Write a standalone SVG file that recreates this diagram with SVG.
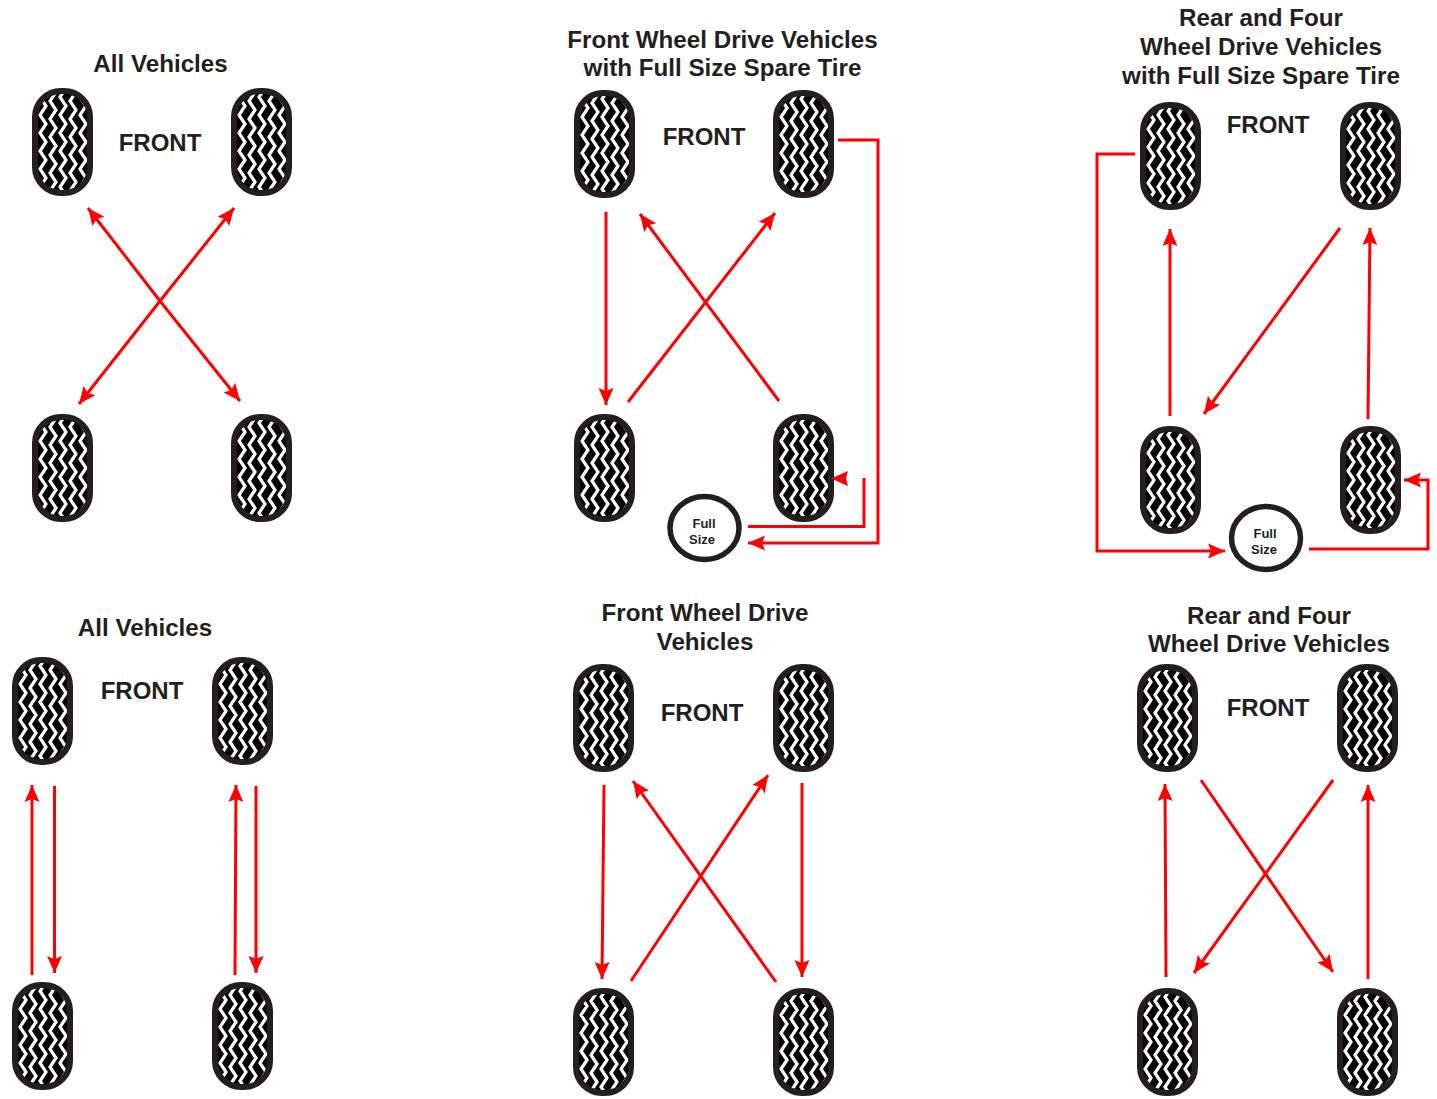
<svg xmlns="http://www.w3.org/2000/svg" width="1437" height="1099" viewBox="0 0 1437 1099">
<style>
text{font-family:"Liberation Sans",Arial,sans-serif;font-weight:bold;fill:#231f20;text-anchor:middle}
.t{font-size:24.2px}
.f{font-size:24px}
.s{font-size:13px}
.c{fill:none;stroke:#f00;stroke-width:3}
.z{fill:none;stroke:#fff;stroke-width:3.2;stroke-linejoin:miter}
.spare{fill:#fff;stroke:#231f20;stroke-width:5.500}
</style>
<defs>
<marker id="ah" markerUnits="userSpaceOnUse" markerWidth="20" markerHeight="18" refX="18" refY="8" orient="auto">
<path d="M1 0.500L18 8L1 15.500L4 8Z" fill="#f00"/>
</marker>
<clipPath id="cp"><rect x="3" y="3" width="55" height="102" rx="24" ry="24"/></clipPath>
<path id="zz" d="M0 -9l6 9l-6 9l6 9l-6 9l6 9l-6 9l6 9l-6 9l6 9l-6 9l6 9l-6 9l6 9l-6 9"/>
<g id="tire">
<rect x="3" y="3" width="55" height="102" rx="25" ry="25" fill="#000"/>
<g clip-path="url(#cp)">
<use href="#zz" x="-2" y="4" class="z"/>
<use href="#zz" x="8" y="0" class="z"/>
<use href="#zz" x="18" y="4" class="z"/>
<use href="#zz" x="28" y="0" class="z"/>
<use href="#zz" x="38" y="4" class="z"/>
<use href="#zz" x="48" y="0" class="z"/>
<use href="#zz" x="58" y="4" class="z"/>
</g>
<rect x="3" y="3" width="55" height="102" rx="26" ry="26" fill="none" stroke="#231f20" stroke-width="6"/>
</g>
</defs>
<rect width="1437" height="1099" fill="#fff"/>

<g id="panel1">
<text class="t" x="160.500" y="72">All Vehicles</text>
<text class="f" x="160" y="151">FRONT</text>
<use id="p1-fl" href="#tire" x="32" y="88"/><use id="p1-fr" href="#tire" x="231" y="88"/>
<use id="p1-rl" href="#tire" x="32" y="414"/><use id="p1-rr" href="#tire" x="231" y="414"/>
</g>
<g id="panel2">
<text class="t" x="722.500" y="48">Front Wheel Drive Vehicles</text>
<text class="t" x="722.500" y="76">with Full Size Spare Tire</text>
<text class="f" x="704" y="145">FRONT</text>
<use id="p2-fl" href="#tire" x="574" y="90"/><use id="p2-fr" href="#tire" x="773" y="90"/>
<use id="p2-rl" href="#tire" x="574" y="414"/><use id="p2-rr" href="#tire" x="773" y="414"/>
</g>
<g id="p2-spare">
<ellipse class="spare" cx="704.500" cy="528" rx="34.500" ry="31.500"/>
<text class="s" x="704" y="528">Full</text><text class="s" x="702" y="544">Size</text>
</g>
<g id="panel3">
<text class="t" x="1261" y="26">Rear and Four</text>
<text class="t" x="1261" y="55">Wheel Drive Vehicles</text>
<text class="t" x="1261" y="84">with Full Size Spare Tire</text>
<text class="f" x="1268" y="133">FRONT</text>
<use id="p3-fl" href="#tire" x="1140" y="102"/><use id="p3-fr" href="#tire" x="1340" y="102"/>
<use id="p3-rl" href="#tire" x="1140" y="426"/><use id="p3-rr" href="#tire" x="1340" y="426"/>
</g>
<g id="p3-spare">
<ellipse class="spare" cx="1266" cy="538" rx="34.500" ry="31.500"/>
<text class="s" x="1265" y="538">Full</text><text class="s" x="1264" y="554">Size</text>
</g>
<g id="panel4">
<text class="t" x="145" y="636">All Vehicles</text>
<text class="f" x="142" y="699">FRONT</text>
<use id="p4-fl" href="#tire" x="12" y="657"/><use id="p4-fr" href="#tire" x="212" y="657"/>
<use id="p4-rl" href="#tire" x="12" y="982"/><use id="p4-rr" href="#tire" x="212" y="982"/>
</g>
<g id="panel5">
<text class="t" x="705" y="621">Front Wheel Drive</text>
<text class="t" x="705" y="650">Vehicles</text>
<text class="f" x="702" y="721">FRONT</text>
<use id="p5-fl" href="#tire" x="573" y="664"/><use id="p5-fr" href="#tire" x="773" y="664"/>
<use id="p5-rl" href="#tire" x="573" y="988"/><use id="p5-rr" href="#tire" x="773" y="988"/>
</g>
<g id="panel6">
<text class="t" x="1269" y="624">Rear and Four</text>
<text class="t" x="1269" y="652">Wheel Drive Vehicles</text>
<text class="f" x="1268" y="716">FRONT</text>
<use id="p6-fl" href="#tire" x="1137" y="664"/><use id="p6-fr" href="#tire" x="1337" y="664"/>
<use id="p6-rl" href="#tire" x="1137" y="988"/><use id="p6-rr" href="#tire" x="1337" y="988"/>
</g>

<g id="connectors">
<path class="c" d="M160 301L88 208" marker-end="url(#ah)"/>
<path class="c" d="M160 301L234 208" marker-end="url(#ah)"/>
<path class="c" d="M160 301L79 404" marker-end="url(#ah)"/>
<path class="c" d="M160 301L240 401" marker-end="url(#ah)"/>

<path class="c" d="M606 212L606 405" marker-end="url(#ah)"/>
<path class="c" d="M628 402L775 213" marker-end="url(#ah)"/>
<path class="c" d="M779 401L640 214" marker-end="url(#ah)"/>
<path class="c" d="M838 140H878V543H748" marker-end="url(#ah)"/>
<path class="c" d="M748 526.500H864V478"/>
<path d="M831 478.500L848 471L846 478.500L848 486Z" fill="#f00"/>

<path class="c" d="M1170 416V229" marker-end="url(#ah)"/>
<path class="c" d="M1340 228L1204 414" marker-end="url(#ah)"/>
<path class="c" d="M1368 419L1370 228" marker-end="url(#ah)"/>
<path class="c" d="M1135 154H1097V551H1225" marker-end="url(#ah)"/>
<path class="c" d="M1309 549H1428V480H1404" marker-end="url(#ah)"/>

<path class="c" d="M32 975V785" marker-end="url(#ah)"/>
<path class="c" d="M54.500 786V973" marker-end="url(#ah)"/>
<path class="c" d="M235 975L236 785" marker-end="url(#ah)"/>
<path class="c" d="M256 786V973" marker-end="url(#ah)"/>

<path class="c" d="M604 785L602 979" marker-end="url(#ah)"/>
<path class="c" d="M802 783V977" marker-end="url(#ah)"/>
<path class="c" d="M631 981L768 775" marker-end="url(#ah)"/>
<path class="c" d="M776 982L633 781" marker-end="url(#ah)"/>

<path class="c" d="M1166 977L1165 784" marker-end="url(#ah)"/>
<path class="c" d="M1368 979V785" marker-end="url(#ah)"/>
<path class="c" d="M1333 780L1194 973" marker-end="url(#ah)"/>
<path class="c" d="M1201 780L1333 972" marker-end="url(#ah)"/>
</g>
</svg>
